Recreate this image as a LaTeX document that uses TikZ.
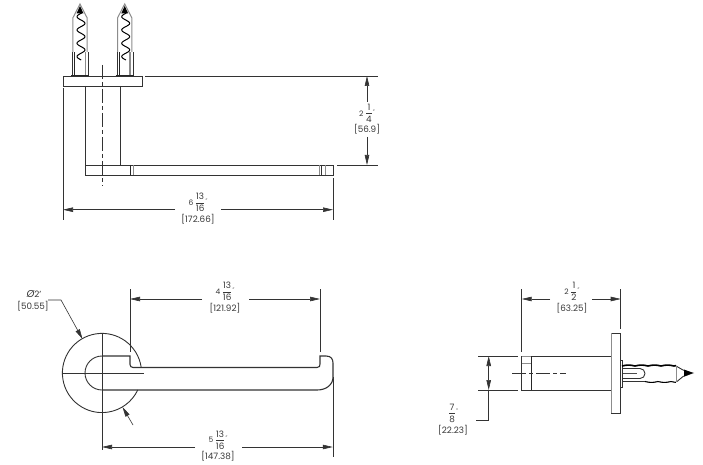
\documentclass[tikz,border=0pt]{standalone}
\usepackage{fontspec}
\setmainfont{Poppins}
\usetikzlibrary{arrows.meta}
\definecolor{ln}{gray}{0.2}
\definecolor{tx}{gray}{0.22}
\tikzset{
  obj/.style={draw=ln,line width=0.9pt},
  heavy/.style={draw=black!85,line width=1.4pt},
  light/.style={draw=black!45,line width=0.7pt},
  dimln/.style={draw=ln,line width=0.6pt},
  arw/.style={dimln,-{Triangle[length=10pt,width=4.5pt]}},
  cen/.style={draw=ln,line width=0.6pt,dash pattern=on 14pt off 3pt on 4pt off 3pt},
  lab/.style={text=tx,inner sep=0pt,font=\fontsize{8.8}{10}\selectfont}
}
\newcommand{\fra}[3]{{\fontsize{7.5}{8}\selectfont #1}\,$\displaystyle{\hbox{#2}\above0.6pt\hbox{#3}}$\raisebox{3pt}{\fontsize{5}{5}\selectfont"}}
\newcommand{\screw}[1]{
  \begin{scope}[shift={(#1,0)}]
    \draw[light,line width=1pt] (-7.2,52)--(-7.2,18)--(0,4)--(7.2,18)--(7.2,52);
    \draw[obj] (-7.5,76)--(-7.5,52);
    \draw[obj,line width=0.6pt] (8.5,76)--(8.5,52);
    \draw[heavy] (-5.5,76)--(-5.5,52);
    \draw[light,line width=1.6pt] (5.5,76)--(5.5,52);
    \fill[black] (0,6)--(-3.5,13.5)--(3.5,13.5)--cycle;
    \draw[draw=black,line width=1pt] plot[smooth,domain=13:60,samples=60] ({1+4*sin((\x-20)*360/13.3)},\x);
    \draw[heavy] (-9,76)--(9,76);
  \end{scope}
}
\begin{document}
\begin{tikzpicture}[x=1pt,y=-1pt]
\useasboundingbox (0,0) rectangle (703,465);
\fill[white] (0,0) rectangle (703,465);

% ---------- top view
\screw{80}\screw{124.7}
\draw[obj] (63,76) rectangle (142,86);
\draw[dimln] (63,88)--(63,220);
\draw[obj] (85.5,86)--(85.5,165);
\draw[obj] (120,86)--(120,165);
\draw[cen] (102,65)--(102,186);
\draw[obj] (85,165) rectangle (333,175);
\draw[heavy,line width=1.1pt] (130.3,165)--(130.3,175);
\draw[light] (133,165)--(133,175);
\draw[light] (319,165)--(319,175);
\draw[obj,line width=0.7pt] (321,165)--(321,175);
\draw[light] (325,165)--(325,175);
\draw[dimln] (333,178)--(333,220);
% 6 13/16
\coordinate (a1) at (63,209.7);\coordinate (a2) at (333,209.7);
\node[lab] (t1) at (198,202.5) {\fra{6}{13}{16}};
\node[lab] (t1b) at (198,219) {[172.66]};
\coordinate (a1i) at (175,209.7);\coordinate (a2i) at (221,209.7);
\draw[arw] (a1i)--(a1);\draw[arw] (a2i)--(a2);
% 2 1/4
\draw[dimln] (145,76)--(378,76);
\draw[dimln] (337,165)--(378,165);
\node[lab] (t2) at (367,113) {\fra{2}{1}{4}};
\node[lab] (t2b) at (367,129.5) {[56.9]};
\coordinate (b1) at (367,76);\coordinate (b2) at (367,165);
\coordinate (b1i) at (367,102);\coordinate (b2i) at (367,137);
\draw[arw] (b1i)--(b1);\draw[arw] (b2i)--(b2);

% ---------- front view
\draw[obj] (141.14,367) arc[start angle=-8.7,end angle=-334.6,radius=39.6];
\draw[obj,line width=1.1pt] (102,356)--(130,356)--(130,364.5) arc[start angle=180,end angle=90,radius=3] -- (317,367.5)
  .. controls (319.5,367.5) and (320,366) .. (320,364)--(320,356)--(326,356)
  .. controls (331,356) and (333,359) .. (333,363)--(333,377)
  .. controls (333,385) and (326,390) .. (317,390)--(102,390);
\draw[obj] (102,390) arc[start angle=90,end angle=270,radius=17];
\draw[dimln] (63,373)--(144,373);
\draw[dimln] (102,333)--(102,450);
\draw[dimln] (130,289)--(130,352);
\draw[dimln] (320,289)--(320,352);
\draw[dimln] (332.8,377)--(332.8,457);
% 4 13/16
\node[lab] (t3) at (225,291.5) {\fra{4}{13}{16}};
\node[lab] (t3b) at (225,308) {[121.92]};
\coordinate (c1) at (130,299);\coordinate (c2) at (320,299);
\coordinate (c1i) at (202,299);\coordinate (c2i) at (249,299);
\draw[arw] (c1i)--(c1);\draw[arw] (c2i)--(c2);
% 5 13/16
\node[lab] (t4) at (218,440) {\fra{5}{13}{16}};
\node[lab] (t4b) at (218,456) {[147.38]};
\coordinate (d1) at (102,447);\coordinate (d2) at (332.8,447);
\coordinate (d1i) at (195,447);\coordinate (d2i) at (242,447);
\draw[arw] (d1i)--(d1);\draw[arw] (d2i)--(d2);
% diameter
\node[lab] (t5) at (34,294) {{\fontsize{10}{10}\selectfont\itshape Ø}2'};
\node[lab] (t5b) at (33,306) {[50.55]};
\coordinate (e0) at (48,300);\coordinate (e1) at (61,300);\coordinate (e2) at (82.5,339);
\draw[arw] (e0)--(e1)--(e2);
\coordinate (f1) at (133,425);\coordinate (f2) at (122.5,407);
\draw[arw] (f1)--(f2);

% ---------- side view
\draw[obj] (521.7,356) rectangle (611.7,390);
\draw[heavy,line width=1.1pt] (531.3,356)--(531.3,390);
\draw[light] (521.7,363)--(531.3,363);
\draw[light,line width=1pt] (521.7,356)--(531.3,356);
\draw[obj] (611.7,333) rectangle (620.7,413);
\draw[light,line width=1.4pt] (611.7,333)--(611.7,413);
\draw[obj] (620.7,360)--(622.5,360)--(622.5,387)--(620.7,387);
% screw body
\draw[draw=black,line width=1.6pt] plot[smooth,domain=622:676,samples=55] (\x,{366-0.9*abs(sin((\x-622)*180/13))});
\draw[draw=black,line width=1.1pt] plot[smooth,domain=645:676,samples=35] (\x,{381.5+0.9*abs(sin((\x-645)*180/13))});
\draw[obj] (622.5,381.5)--(645,381.5);
\draw[obj] (676,366)--(683,370)--(692.7,373)--(683,376.5)--(677,381.5);
\fill[black] (692.7,373)--(684,369.5)--(684,376.5)--cycle;
\draw[light] (676,366)--(676,381.5);
\draw[obj] (622.5,368.5)--(640,368.5) arc[start angle=-90,end angle=90,radius=5]--(622.5,378.5);
\draw[draw=black!70,line width=1.5pt] (623,373.5)--(637,373.5);
\draw[cen] (512,373)--(566,373);
% 2 1/2
\draw[dimln] (521.7,289)--(521.7,352);
\draw[dimln] (620.7,289)--(620.7,329);
\node[lab] (t6) at (572,291.5) {\fra{2}{1}{2}};
\node[lab] (t6b) at (572,308) {[63.25]};
\coordinate (g1) at (521.7,299);\coordinate (g2) at (620.7,299);
\coordinate (g1i) at (550,299);\coordinate (g2i) at (592,299);
\draw[arw] (g1i)--(g1);\draw[arw] (g2i)--(g2);
% 7/8
\draw[dimln] (478,356)--(518,356);
\draw[dimln] (478,390)--(518,390);
\coordinate (h1) at (488.7,356);\coordinate (h2) at (488.7,390);\coordinate (hm) at (488.7,373);
\coordinate (h3) at (488.7,420.3);\coordinate (h4) at (476,420.3);
\draw[arw] (hm)--(h1);
\draw[arw] (hm)--(h2);
\draw[dimln] (h2)--(h3)--(h4);
\node[lab] (t7) at (453,413) {$\displaystyle{\hbox{7}\above0.6pt\hbox{8}}$\raisebox{3pt}{\fontsize{5}{5}\selectfont"}};
\node[lab] (t7b) at (453,430) {[22.23]};
\end{tikzpicture}
\end{document}
